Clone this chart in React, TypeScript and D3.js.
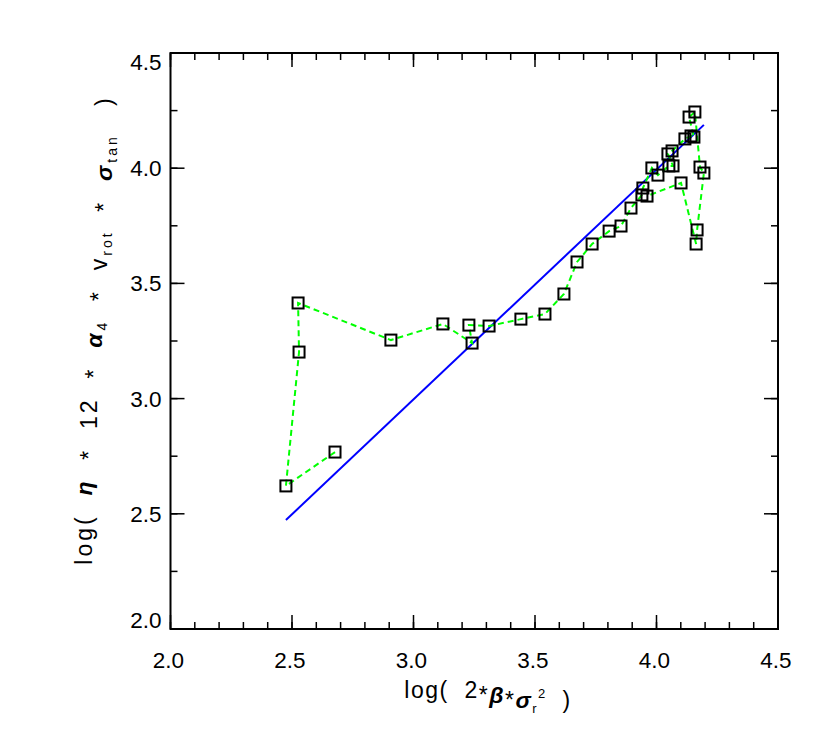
import React from "react";
import * as d3 from "d3";

const pointsX = [2.677, 2.475, 2.529, 2.525, 2.907, 3.121, 3.241, 3.228, 3.311, 3.442, 3.541, 3.619, 3.673, 3.735, 3.805, 3.854, 3.895, 3.940, 3.944, 3.981, 4.006, 4.051, 4.068, 4.047, 4.064, 4.117, 4.142, 4.154, 4.134, 4.158, 4.179, 4.195, 4.167, 4.163, 4.101, 3.961];
const pointsY = [2.768, 2.621, 3.202, 3.415, 3.254, 3.324, 3.241, 3.319, 3.315, 3.345, 3.367, 3.454, 3.593, 3.671, 3.727, 3.749, 3.827, 3.884, 3.914, 4.001, 3.970, 4.010, 4.010, 4.062, 4.075, 4.127, 4.140, 4.135, 4.222, 4.244, 4.005, 3.979, 3.732, 3.671, 3.936, 3.879];
const fitX = [2.475, 4.195];
const fitY = [2.473, 4.188];
const xTicks = [2.0, 2.5, 3.0, 3.5, 4.0, 4.5];
const yTicks = [2.0, 2.5, 3.0, 3.5, 4.0, 4.5];

const FONT = "'Liberation Sans', 'DejaVu Sans', sans-serif";

function Star() {
  return (
    <>
      <tspan dy={5}>*</tspan>
      <tspan dy={-5}>{""}</tspan>
    </>
  );
}

export default function App() {
  const left = 170.5, right = 778, top = 53, bottom = 629;
  const x = d3.scaleLinear().domain([2, 4.5]).range([left, right]);
  const y = d3.scaleLinear().domain([2, 4.5]).range([bottom, top]);
  const xMinor = d3.range(2, 4.5001, 0.1);
  const yMinor = d3.range(2, 4.5001, 0.25);
  const line = d3.line<number>().x((_, i) => x(pointsX[i])).y((_, i) => y(pointsY[i]));
  const fit = d3.line<number>().x((_, i) => x(fitX[i])).y((_, i) => y(fitY[i]));
  const sq = 11;
  const pre = { whiteSpace: "pre" as const };
  return (
    <svg width={830} height={738} style={{ position: "absolute", left: 0, top: 0, background: "#fff" }}>
      <rect x={0} y={0} width={830} height={738} fill="#fff" />
      {xMinor.map((v, i) => (
        <g key={"xm" + i} stroke="#000" strokeWidth={1.5}>
          <line x1={x(v)} x2={x(v)} y1={bottom} y2={bottom - 7} />
          <line x1={x(v)} x2={x(v)} y1={top} y2={top + 7} />
        </g>
      ))}
      {yMinor.map((v, i) => (
        <g key={"ym" + i} stroke="#000" strokeWidth={1.5}>
          <line y1={y(v)} y2={y(v)} x1={left} x2={left + 7} />
          <line y1={y(v)} y2={y(v)} x1={right} x2={right - 7} />
        </g>
      ))}
      {xTicks.map((v, i) => (
        <g key={"xt" + i}>
          <line x1={x(v)} x2={x(v)} y1={bottom} y2={bottom - 14} stroke="#000" strokeWidth={1.5} />
          <line x1={x(v)} x2={x(v)} y1={top} y2={top + 14} stroke="#000" strokeWidth={1.5} />
          <text x={x(v) - 2} y={bottom + 39} textAnchor="middle" fontFamily={FONT} fontSize={22.5}>{v.toFixed(1)}</text>
        </g>
      ))}
      {yTicks.map((v, i) => {
        const ly = Math.min(Math.max(y(v), top + 9), bottom - 9);
        return (
          <g key={"yt" + i}>
            <line y1={y(v)} y2={y(v)} x1={left} x2={left + 14} stroke="#000" strokeWidth={1.5} />
            <line y1={y(v)} y2={y(v)} x1={right} x2={right - 14} stroke="#000" strokeWidth={1.5} />
            <text x={left - 9} y={ly + 8} textAnchor="end" fontFamily={FONT} fontSize={22.5}>{v.toFixed(1)}</text>
          </g>
        );
      })}
      <rect x={left} y={top} width={right - left} height={bottom - top} fill="none" stroke="#000" strokeWidth={2} />
      <path d={fit(fitX) || ""} fill="none" stroke="#0000ff" strokeWidth={2} />
      <path d={line(pointsX) || ""} fill="none" stroke="#00ff00" strokeWidth={2} strokeDasharray="6,4" />
      {pointsX.map((v, i) => (
        <rect key={"p" + i} x={x(v) - sq / 2} y={y(pointsY[i]) - sq / 2} width={sq} height={sq} fill="none" stroke="#000" strokeWidth={2} />
      ))}
      <text x={488} y={698} textAnchor="middle" fontFamily={FONT} fontSize={23} letterSpacing={1.5} style={pre}>
        {"log(  2"}<Star /><tspan fontStyle="italic" fontWeight="bold">β</tspan><Star /><tspan fontStyle="italic" fontWeight="bold">σ</tspan>
        <tspan fontSize={13} dy={5}>r</tspan>
        <tspan fontSize={13} dy={-15}>2</tspan>
        <tspan dy={10}>{"  )"}</tspan>
      </text>
      <text transform={`translate(92, 330) rotate(-90)`} textAnchor="middle" fontFamily={FONT} fontSize={23} letterSpacing={3} style={pre}>
        {"log(  "}<tspan fontStyle="italic" fontWeight="bold">η</tspan>{"  "}<Star />{"  12  "}<Star />{"  "}<tspan fontStyle="italic" fontWeight="bold">α</tspan>
        <tspan fontSize={14} dy={5}>4</tspan>
        <tspan dy={-5}>{"  "}</tspan><Star /><tspan>{"  v"}</tspan>
        <tspan fontSize={14} dy={5}>rot</tspan>
        <tspan dy={-5}>{"  "}</tspan><Star /><tspan>{"  "}</tspan>
        <tspan fontStyle="italic" fontWeight="bold">σ</tspan>
        <tspan fontSize={14} dy={5}>tan</tspan>
        <tspan dy={-5}>{"   )"}</tspan>
      </text>
    </svg>
  );
}
